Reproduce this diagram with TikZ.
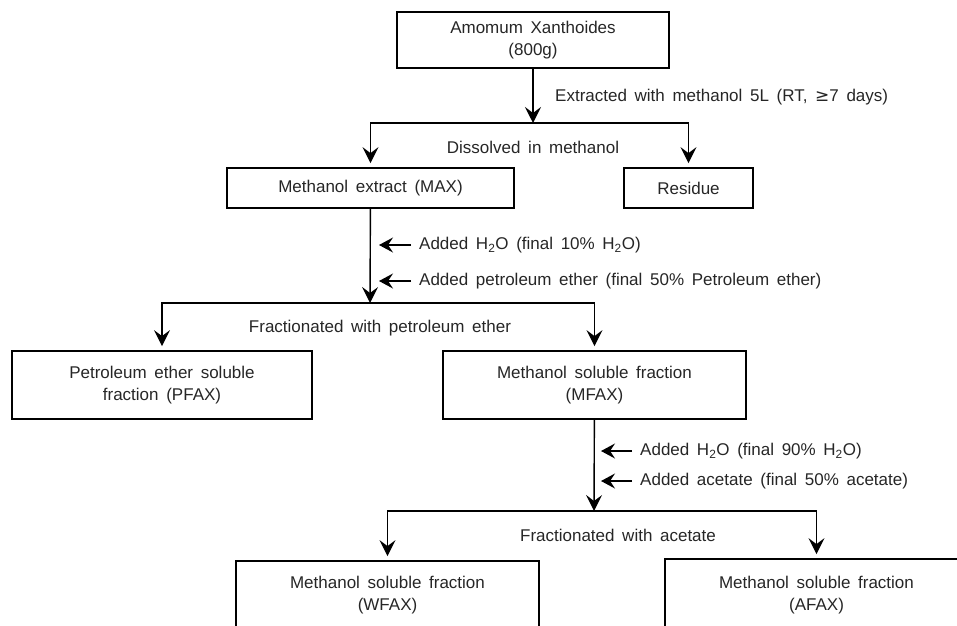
\documentclass[tikz,border=0pt]{standalone}
\usepackage{fontspec}
\setmainfont{Liberation Sans}
\usetikzlibrary{arrows.meta, positioning}
\definecolor{inkgray}{HTML}{262626}

\newcommand{\flowfont}{\fontsize{17}{22}\selectfont\spaceskip=0.45em\relax}

\begin{document}
\begin{tikzpicture}[x=1pt, y=-1pt,
  procbox/.style={draw, line width=1.8pt, align=center, inner sep=0pt,
        font=\flowfont, text=inkgray},
  note/.style={inner sep=0pt, font=\flowfont, text=inkgray},
  flow/.style={line width=1.4pt, -{Stealth[length=16pt, width=16pt, inset=6pt]}},
  side/.style={line width=1.4pt, -{Stealth[length=14pt, width=15pt, inset=5pt]}, shorten <=8pt},
  bar/.style={line width=1.4pt}]
  \useasboundingbox (0,0) rectangle (957,625);
  \clip (0,0) rectangle (957,625);

  % boxes
  \node[procbox, minimum width=272pt, minimum height=56pt] (amomum) at (533,40)
        {Amomum Xanthoides\\(800g)};
  \node[procbox, minimum width=287pt, minimum height=40pt] (max) at (370.5,188)
        {Methanol extract (MAX)};
  \node[procbox, minimum width=129pt, minimum height=40pt] (residue) at (688.5,188)
        {Residue};
  \node[procbox, minimum width=300pt, minimum height=68pt] (pfax) at (162,385)
        {Petroleum ether soluble\\fraction (PFAX)};
  \node[procbox, minimum width=303pt, minimum height=68pt] (mfax) at (594.5,385)
        {Methanol soluble fraction\\(MFAX)};
  \node[procbox, minimum width=303pt, minimum height=68pt] (wfax) at (387.5,595)
        {Methanol soluble fraction\\(WFAX)};
  \node[procbox, minimum width=303pt, minimum height=72pt] (afax) at (816.5,595)
        {Methanol soluble fraction\\(AFAX)};

  % split points
  \coordinate (split1) at (533,123);
  \coordinate (split2) at (370,303);
  \coordinate (split3) at (594,511);

  % extraction
  \draw[flow] (amomum) -- (split1);
  \draw[bar] (split1 -| max.north) -- (split1 -| residue.north);
  \draw[flow, shorten >=4pt] (split1) -| (max.north);
  \draw[flow, shorten >=4pt] (split1) -| (residue.north);
  \node[note, anchor=west] (extract) at (555,97)
        {Extracted with methanol 5L (RT, {\fontspec{DejaVu Sans}\fontsize{17}{22}\selectfont≥}7 days)};
  \node[note] (dissolve) at (533,147) {Dissolved in methanol};

  % petroleum ether fractionation
  \draw[flow] (max) -- (split2);
  \draw[bar] (split2 -| pfax.north) -- (split2 -| mfax.north);
  \draw[flow, shorten >=4pt] (split2) -| (pfax.north);
  \draw[flow, shorten >=4pt] (split2) -| (mfax.north);
  \coordinate (in1) at (379,245);
  \coordinate (in2) at (379,281);
  \node[note, right=40pt of in1] (water1) {Added H\textsubscript{2}O (final 10\% H\textsubscript{2}O)};
  \node[note, right=40pt of in2] (petrol) {Added petroleum ether (final 50\% Petroleum ether)};
  \draw[side] (water1) -- (in1);
  \draw[side] (petrol) -- (in2);
  \node[note] (fracpe) at (380,328) {Fractionated with petroleum ether};

  % acetate fractionation
  \draw[flow] (mfax) -- (split3);
  \draw[bar] (split3 -| wfax.north) -- (split3 -| afax.north);
  \draw[flow, shorten >=4pt] (split3) -| (wfax.north);
  \draw[flow, shorten >=4pt] (split3) -| (afax.north);
  \coordinate (in3) at (601,451);
  \coordinate (in4) at (601,481);
  \node[note, right=39pt of in3] (water2) {Added H\textsubscript{2}O (final 90\% H\textsubscript{2}O)};
  \node[note, right=39pt of in4] (acetate) {Added acetate (final 50\% acetate)};
  \draw[side] (water2) -- (in3);
  \draw[side] (acetate) -- (in4);
  \node[note] (fracac) at (618,535) {Fractionated with acetate};
\end{tikzpicture}
\end{document}
